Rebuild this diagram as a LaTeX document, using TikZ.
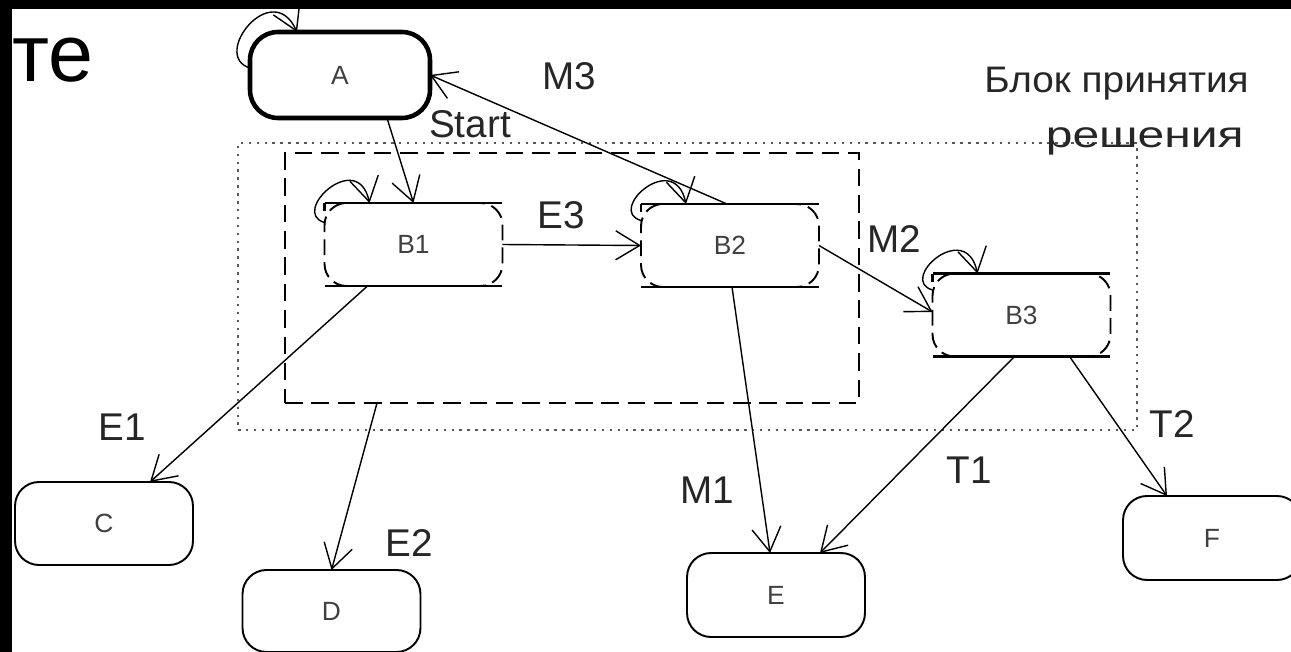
\documentclass[tikz,border=0pt]{standalone}
\usepackage{fontspec}
\setmainfont{Liberation Sans}
\usetikzlibrary{arrows.meta,calc}
\begin{document}
\begin{tikzpicture}[x=0.02cm,y=-0.02cm,
  lbl/.style={font=\fontsize{22}{26}\selectfont, text=black!85, inner sep=0pt},
  st/.style={draw, rounded corners=0.48cm, minimum width=3.56cm, minimum height=1.66cm, inner sep=0pt, outer sep=0pt, line width=1.1pt, font=\fontsize{15}{17}\selectfont, text=black!75},
  bst/.style={st, dash pattern=on 9pt off 4pt, rounded corners=0.44cm},
  edgeline/.style={line width=1.3pt},
  arr/.style={-{Straight Barb[length=0.48cm,width=0.58cm,line width=0.8pt]}, line width=0.8pt},
  dotbox/.style={draw=black!65, dash pattern=on 1.4pt off 3.1pt, line width=1.4pt, inner sep=0pt},
  dashbox/.style={draw, dash pattern=on 10pt off 5pt, line width=1.1pt, inner sep=0pt, outer sep=0pt}
]
\useasboundingbox (0,0) rectangle (1291,652);
\clip (0,0) rectangle (1291,652);
\fill[white] (0,0) rectangle (1291,652);

% regions
\node[dotbox, minimum width=17.98cm, minimum height=5.74cm] (dec) at (687.5,286.5) {};
\node[dashbox, minimum width=11.48cm, minimum height=5cm] (blk) at (572,278) {};

% states
\node[st, line width=2.6pt, minimum width=3.6cm, minimum height=1.72cm, rounded corners=0.56cm] (A) at (340,75) {A};
\node[bst] (B1) at (413.5,244.5) {B1};
\node[bst] (B2) at (730,245.5) {B2};
\node[bst] (B3) at (1021.5,315) {B3};
\node[st] (C) at (104,523.5) {C};
\node[st, minimum height=1.64cm] (D) at (331.5,611) {D};
\node[st, minimum height=1.68cm] (E) at (776,595) {E};
\node[st, minimum height=1.68cm] (F) at (1212,538) {F};

% solid top/bottom edges of the B states
\foreach \b in {B1,B2,B3}{
  \draw[edgeline] (\b.north west) -- (\b.north east);
  \draw[edgeline] (\b.south west) -- (\b.south east);
  \draw[edgeline] (\b.north west) -- ++(0,8);
}

% transitions
\draw[arr] ($(A.south)+(47,0)$) -- (B1.north);
\draw[arr] ($(B2.north)+(-3,0)$) -- (A.east);
\draw[arr] (B1.east) -- (B2.west);
\draw[arr] (B2.east) -- ($(B3.west)+(0,-3)$);
\draw[arr] ($(B1.south)+(-46,0)$) -- ($(C.north)+(46,0)$);
\draw[arr] ($(blk.south)+(-195,0)$) -- (D.north);
\draw[arr] ($(B2.south)+(2,0)$) -- ($(E.north)+(-6,0)$);
\draw[arr] ($(B3.south)+(-7,0)$) -- ($(E.north)+(44,0)$);
\draw[arr] ($(B3.south)+(48,0)$) -- ($(F.north)+(-45,0)$);

% self loops
\draw[arr] ($(A.west)+(0,-7)$) .. controls +(-40,-12) and +(-25,-55) .. ($(A.north west)+(47,0)$);
\draw[arr] ($(B1.west)+(0,-22)$) .. controls +(-35,-10) and +(-12,-55) .. ($(B1.north west)+(45,0)$);
\draw[arr] ($(B2.west)+(0,-25)$) .. controls +(-35,-10) and +(-12,-55) .. ($(B2.north west)+(45,0)$);
\draw[arr] ($(B3.west)+(0,-25)$) .. controls +(-35,-10) and +(-12,-55) .. ($(B3.north west)+(45,0)$);

% labels
\node[lbl, anchor=base] (lM3) at (569,90) {M3};
\node[lbl, anchor=base] (lStart) at (470,137) {Start};
\node[lbl, anchor=base] (lE3) at (561,228) {E3};
\node[lbl, anchor=base] (lM2) at (894,252) {M2};
\node[lbl, anchor=base] (lT2) at (1172,437) {T2};
\node[lbl, anchor=base] (lT1) at (969,483) {T1};
\node[lbl, anchor=base] (lM1) at (707,503) {M1};
\node[lbl, anchor=base] (lE2) at (409,556) {E2};
\node[lbl, anchor=base] (lE1) at (122,440) {E1};
\node[lbl, anchor=base east, font=\fontsize{21}{25}\selectfont] (lblock1) at (1249,92) {\scalebox{1.05}[1]{Блок принятия}};
\node[lbl, anchor=base east, font=\fontsize{21}{25}\selectfont] (lblock2) at (1244,148) {\scalebox{1.3}[1]{решения}};

% title fragment
\node[anchor=base west, inner sep=0pt, font=\fontsize{46}{50}\selectfont] (title) at (12,82) {те};

% black frame bands
\fill[black] (0,0) rectangle (1291,9);
\fill[black] (0,0) rectangle (12,652);
\end{tikzpicture}
\end{document}
